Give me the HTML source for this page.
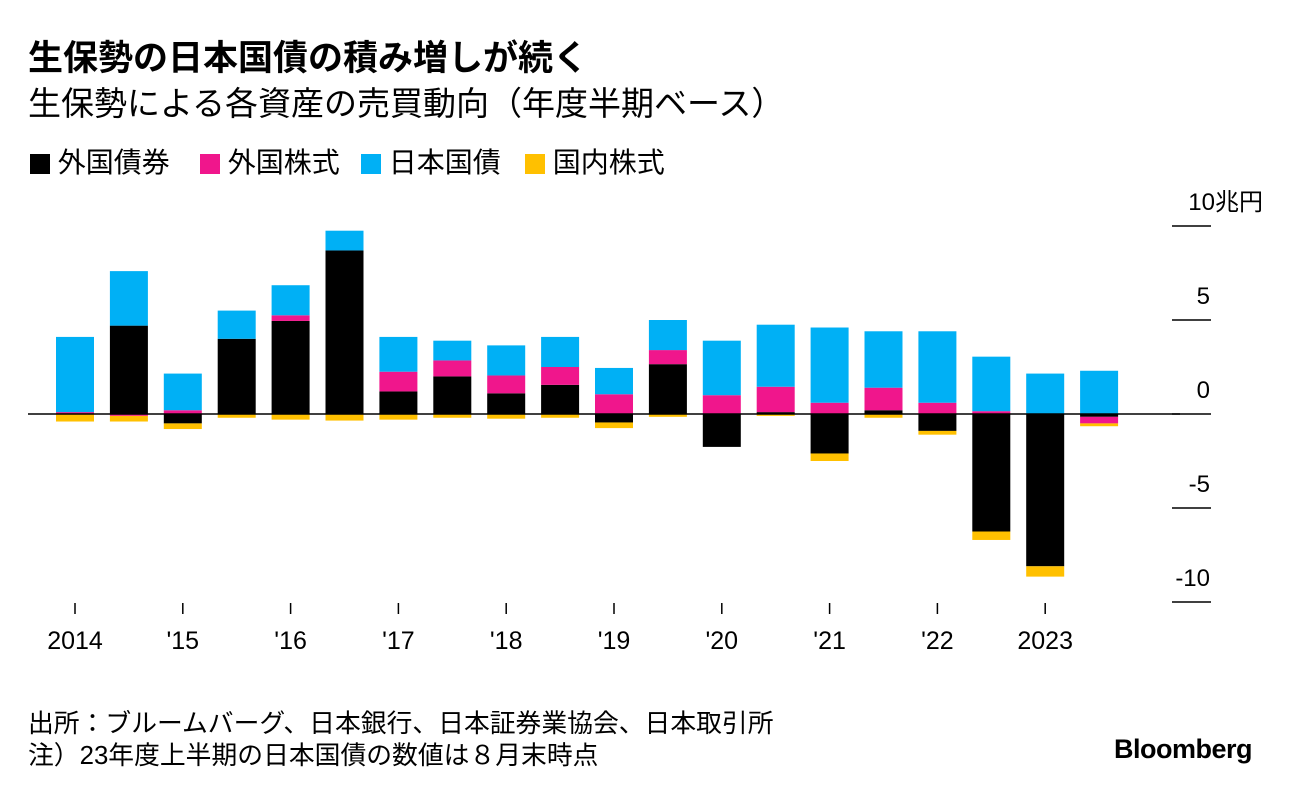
<!DOCTYPE html>
<html><head><meta charset="utf-8">
<style>
body{margin:0;background:#fff;width:1292px;height:796px;overflow:hidden;font-family:"Liberation Sans","Noto Sans CJK JP",sans-serif;color:#000}
.t{position:absolute;white-space:nowrap}
.lg{position:absolute;top:0}
</style></head><body>
<div class="t" style="left:28px;top:37px;font-size:35px;font-weight:bold;line-height:44px">生保勢の日本国債の積み増しが続く</div>
<div class="t" style="left:28px;top:83px;font-size:33px;line-height:42px">生保勢による各資産の売買動向（年度半期ベース）</div>
<div class="t" style="left:30px;top:146px;font-size:28px;line-height:34px;width:700px;height:34px">
<span class="lg" style="left:0"><span style="display:inline-block;width:20px;height:20px;background:#000;vertical-align:-2px"></span> 外国債券</span>
<span class="lg" style="left:170px"><span style="display:inline-block;width:20px;height:20px;background:#f0168c;vertical-align:-2px"></span> 外国株式</span>
<span class="lg" style="left:331px"><span style="display:inline-block;width:20px;height:20px;background:#00b0f5;vertical-align:-2px"></span> 日本国債</span>
<span class="lg" style="left:495px"><span style="display:inline-block;width:20px;height:20px;background:#ffc000;vertical-align:-2px"></span> 国内株式</span>
</div>
<svg id="c" width="1292" height="796" style="position:absolute;left:0;top:0"></svg>
<div class="t" style="left:28px;top:708px;font-size:25.8px;line-height:32px">出所：ブルームバーグ、日本銀行、日本証券業協会、日本取引所<br>注）23年度上半期の日本国債の数値は８月末時点</div>
<div class="t" style="left:1114px;top:734px;font-size:27px;font-weight:bold;letter-spacing:-0.5px">Bloomberg</div>
<script>
const foreignBonds=[0,4.7,-0.5,4.0,4.95,8.7,1.2,2.0,1.1,1.55,-0.45,2.65,-1.75,0.1,-2.1,0.2,-0.9,-6.25,-8.1,-0.15];
const foreignStocks=[0.1,-0.1,0.2,0,0.3,0,1.05,0.85,0.95,0.95,1.05,0.75,1.0,1.35,0.6,1.2,0.6,0.15,0,-0.35];
const jgb=[4.0,2.9,1.95,1.5,1.6,1.05,1.85,1.05,1.6,1.6,1.4,1.6,2.9,3.3,4.0,3.0,3.8,2.9,2.15,2.3];
const domesticStocks=[-0.4,-0.3,-0.3,-0.2,-0.3,-0.35,-0.3,-0.2,-0.25,-0.2,-0.3,-0.15,0,-0.1,-0.4,-0.2,-0.2,-0.45,-0.55,-0.15];
const xLabels=["2014","","'15","","'16","","'17","","'18","","'19","","'20","","'21","","'22","","2023",""];
const yTicks=[10,5,0,-5,-10];
const yTickLabels=["10兆円","5","0","-5","-10"];
const svg=document.getElementById('c');
const NS='http://www.w3.org/2000/svg';
const y=v=>414-v*18.8;
const x=i=>75+i*53.9;
const bw=38;
function mk(t,a){const e=document.createElementNS(NS,t);for(const k in a)e.setAttribute(k,a[k]);svg.appendChild(e);return e;}
const series=[[foreignBonds,'#000','foreign-bonds'],[foreignStocks,'#f0168c','foreign-stocks'],[jgb,'#00b0f5','jgb'],[domesticStocks,'#ffc000','domestic-stocks']];
for(let i=0;i<foreignBonds.length;i++){
  let pos=0,neg=0;
  for(const [arr,col,nm] of series){
    const v=arr[i];if(!v)continue;
    let a,b;
    if(v>0){a=pos;b=pos+v;pos=b;}else{a=neg;b=neg+v;neg=b;}
    const r=mk('rect',{x:x(i)-bw/2,y:Math.min(y(a),y(b)),width:bw,height:Math.abs(y(a)-y(b)),fill:col});
    
    
  }
}
const zl=mk('line',{x1:28,x2:1180,y1:y(0),y2:y(0),stroke:'#000','stroke-width':1.5});


yTicks.forEach((v,k)=>{
  const l=mk('line',{x1:1172,x2:1211,y1:y(v),y2:y(v),stroke:'#000','stroke-width':1.5});
  
  
  const t=mk('text',{x:k===0?1263:1210,y:y(v)-16,'text-anchor':'end','font-size':24,'font-family':'Liberation Sans, Noto Sans CJK JP, sans-serif'});
  t.textContent=yTickLabels[k];
  
  
});
xLabels.forEach((s,i)=>{
  if(!s)return;
  const l=mk('line',{x1:x(i),x2:x(i),y1:603,y2:614,stroke:'#000','stroke-width':1.5});
  
  
  const t=mk('text',{x:x(i),y:649,'text-anchor':'middle','font-size':25,'font-family':'Liberation Sans, sans-serif'});
  t.textContent=s;
  
  
});
</script>
</body></html>
